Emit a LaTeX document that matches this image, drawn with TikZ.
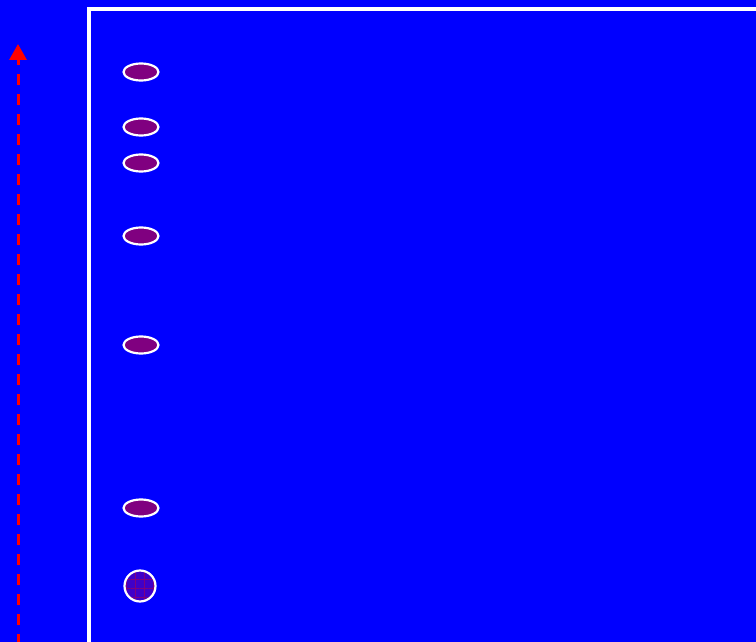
\documentclass[tikz,border=0pt]{standalone}
\usepackage{xcolor}
\usepackage{tikz}
\usetikzlibrary{arrows.meta,patterns.meta,shapes.geometric}

\definecolor{bgblue}{RGB}{0,0,255}
\definecolor{spotpurple}{RGB}{128,0,128}
\definecolor{wellfill}{RGB}{64,0,200}

\begin{document}
\begin{tikzpicture}[
  x=1pt,y=-1pt,
  spot/.style={ellipse,draw=white,line width=2.2pt,fill=spotpurple,minimum width=35pt,minimum height=17pt,inner sep=0pt},
  well/.style={circle,draw=white,line width=2.2pt,preaction={fill=wellfill},pattern={Hatch[angle=0,distance=9pt,line width=0.6pt]},pattern color=spotpurple,minimum size=31pt,inner sep=0pt},
  frame/.style={draw=white,line width=4pt},
  arrow/.style={-{Triangle[length=16pt,width=17pt]},red,line width=3pt,dash pattern=on 11pt off 9pt}
]
\useasboundingbox[fill=bgblue] (0,0) rectangle (756,642);
% plate border
\coordinate (frametl) at (89,9);
\draw[frame] (757,9) -- (frametl) -- (89,643);
% spots
\node[spot] (spot1) at (141,72) {};
\node[spot] (spot2) at (141,127) {};
\node[spot] (spot3) at (141,163) {};
\node[spot] (spot4) at (141,236) {};
\node[spot] (spot5) at (141,345) {};
\node[spot] (spot6) at (141,508) {};
\node[well] (start) at (140,586) {};
% solvent direction
\coordinate (runbottom) at (18,645);
\coordinate (runtop) at (18,44);
\draw[arrow] (runbottom) -- (runtop);
\end{tikzpicture}
\end{document}
